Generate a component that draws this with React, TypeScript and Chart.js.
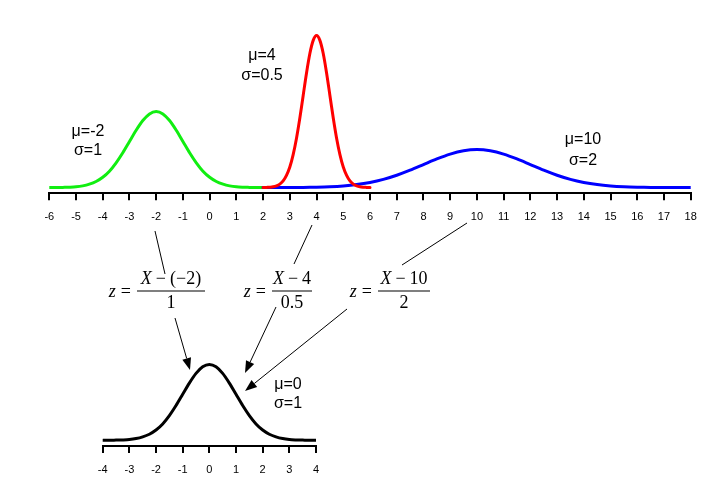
import React, { useEffect, useRef } from "react";
import { Chart, registerables } from "chart.js";

Chart.register(...registerables);

// ---------- data ----------
const topTicks = [-6, -5, -4, -3, -2, -1, 0, 1, 2, 3, 4, 5, 6, 7, 8, 9, 10, 11, 12, 13, 14, 15, 16, 17, 18];
const bottomTicks = [-4, -3, -2, -1, 0, 1, 2, 3, 4];

// mu=-2, sigma=1 (green)
const greenX = [-6, -5.75, -5.5, -5.25, -5, -4.75, -4.5, -4.25, -4, -3.75, -3.5, -3.25, -3, -2.75, -2.5, -2.25, -2,
  -1.75, -1.5, -1.25, -1, -0.75, -0.5, -0.25, 0, 0.25, 0.5, 0.75, 1, 1.25, 1.5, 1.75, 2];
const greenY = [0, 0, 0.001, 0.002, 0.004, 0.009, 0.018, 0.032, 0.054, 0.086, 0.13, 0.183, 0.242, 0.301, 0.352, 0.387, 0.399,
  0.387, 0.352, 0.301, 0.242, 0.183, 0.13, 0.086, 0.054, 0.032, 0.018, 0.009, 0.004, 0.002, 0.001, 0, 0];

// mu=4, sigma=0.5 (red)
const redX = [2, 2.125, 2.25, 2.375, 2.5, 2.625, 2.75, 2.875, 3, 3.125, 3.25, 3.375, 3.5, 3.625, 3.75, 3.875, 4,
  4.125, 4.25, 4.375, 4.5, 4.625, 4.75, 4.875, 5, 5.125, 5.25, 5.375, 5.5, 5.625, 5.75, 5.875, 6];
const redY = [0, 0.001, 0.002, 0.004, 0.009, 0.018, 0.035, 0.064, 0.108, 0.173, 0.259, 0.365, 0.484, 0.602, 0.704, 0.773, 0.798,
  0.773, 0.704, 0.602, 0.484, 0.365, 0.259, 0.173, 0.108, 0.064, 0.035, 0.018, 0.009, 0.004, 0.002, 0.001, 0];

// mu=10, sigma=2 (blue)
const blueX = [2, 2.5, 3, 3.5, 4, 4.5, 5, 5.5, 6, 6.5, 7, 7.5, 8, 8.5, 9, 9.5, 10,
  10.5, 11, 11.5, 12, 12.5, 13, 13.5, 14, 14.5, 15, 15.5, 16, 16.5, 17, 17.5, 18];
const blueY = [0.0001, 0.0002, 0.0004, 0.001, 0.0022, 0.0045, 0.0088, 0.0159, 0.027, 0.0431, 0.0648, 0.0913, 0.121, 0.1506, 0.176, 0.1933, 0.1995,
  0.1933, 0.176, 0.1506, 0.121, 0.0913, 0.0648, 0.0431, 0.027, 0.0159, 0.0088, 0.0045, 0.0022, 0.001, 0.0004, 0.0002, 0.0001];

// mu=0, sigma=1 (black, standard)
const blackX = [-4, -3.75, -3.5, -3.25, -3, -2.75, -2.5, -2.25, -2, -1.75, -1.5, -1.25, -1, -0.75, -0.5, -0.25, 0,
  0.25, 0.5, 0.75, 1, 1.25, 1.5, 1.75, 2, 2.25, 2.5, 2.75, 3, 3.25, 3.5, 3.75, 4];
const blackY = [0, 0, 0.001, 0.002, 0.004, 0.009, 0.018, 0.032, 0.054, 0.086, 0.13, 0.183, 0.242, 0.301, 0.352, 0.387, 0.399,
  0.387, 0.352, 0.301, 0.242, 0.183, 0.13, 0.086, 0.054, 0.032, 0.018, 0.009, 0.004, 0.002, 0.001, 0, 0];

const paramLabels = [
  { lines: ["μ=-2", "σ=1"], x: 88, y: [132, 151] },
  { lines: ["μ=4", "σ=0.5"], x: 262, y: [56, 76] },
  { lines: ["μ=10", "σ=2"], x: 583, y: [140, 161] },
  { lines: ["μ=0", "σ=1"], x: 288, y: [385, 404] },
];

// ---------- drawing helpers ----------
type Run = { t?: string; it?: boolean; gap?: number };
const MATH_SIZE = 18;
const mathFont = (it?: boolean) => `${it ? "italic " : ""}${MATH_SIZE}px 'Liberation Serif'`;

function runsWidth(ctx: CanvasRenderingContext2D, runs: Run[]) {
  let w = 0;
  for (const r of runs) {
    if (r.gap) w += r.gap;
    if (r.t) {
      ctx.font = mathFont(r.it);
      w += ctx.measureText(r.t).width;
    }
  }
  return w;
}

function drawRuns(ctx: CanvasRenderingContext2D, runs: Run[], x: number, y: number, align: "center" | "right") {
  const w = runsWidth(ctx, runs);
  let cx = align === "center" ? x - w / 2 : x - w;
  ctx.textAlign = "left";
  ctx.textBaseline = "alphabetic";
  for (const r of runs) {
    if (r.gap) cx += r.gap;
    if (r.t) {
      ctx.font = mathFont(r.it);
      ctx.fillText(r.t, cx, y);
      cx += ctx.measureText(r.t).width;
    }
  }
}

function drawFormula(ctx: CanvasRenderingContext2D, barL: number, barR: number, barY: number, num: Run[], den: Run[]) {
  ctx.fillStyle = "#000";
  drawRuns(ctx, [{ t: "z", it: true }, { gap: 5 }, { t: "=" }], barL - 6, barY + 5.5, "right");
  const c = (barL + barR) / 2;
  drawRuns(ctx, num, c, barY - 7, "center");
  drawRuns(ctx, den, c, barY + 16.5, "center");
  ctx.fillRect(barL, barY - 0.5, barR - barL, 1);
}

function line(ctx: CanvasRenderingContext2D, x1: number, y1: number, x2: number, y2: number) {
  ctx.beginPath();
  ctx.moveTo(x1, y1);
  ctx.lineTo(x2, y2);
  ctx.stroke();
}

function arrow(ctx: CanvasRenderingContext2D, x1: number, y1: number, x2: number, y2: number) {
  const ang = Math.atan2(y2 - y1, x2 - x1);
  const L = 12, W = 4.5;
  const bx = x2 - L * Math.cos(ang), by = y2 - L * Math.sin(ang);
  line(ctx, x1, y1, bx, by);
  ctx.beginPath();
  ctx.moveTo(x2, y2);
  ctx.lineTo(bx + W * Math.sin(ang), by - W * Math.cos(ang));
  ctx.lineTo(bx - W * Math.sin(ang), by + W * Math.cos(ang));
  ctx.closePath();
  ctx.fill();
}

const annotationPlugin = {
  id: "zAnnotations",
  afterDraw(chart: any) {
    const ctx: CanvasRenderingContext2D = chart.ctx;
    ctx.save();
    ctx.fillStyle = "#000";
    ctx.strokeStyle = "#000";
    ctx.lineWidth = 1;
    // parameter labels
    ctx.font = "16px 'Liberation Sans'";
    ctx.textAlign = "center";
    ctx.textBaseline = "middle";
    for (const p of paramLabels) {
      p.lines.forEach((s, i) => ctx.fillText(s, p.x, p.y[i]));
    }
    // connector lines from top axis to formulas
    line(ctx, 155, 231, 165, 274);
    line(ctx, 312, 225, 294, 264);
    line(ctx, 467, 223, 402, 265);
    // formulas
    drawFormula(ctx, 137, 205, 291,
      [{ t: "X", it: true }, { gap: 4 }, { t: "−" }, { gap: 4 }, { t: "(" }, { t: "−" }, { t: "2" }, { t: ")" }],
      [{ t: "1" }]);
    drawFormula(ctx, 272, 312, 291,
      [{ t: "X", it: true }, { gap: 4 }, { t: "−" }, { gap: 4 }, { t: "4" }],
      [{ t: "0.5" }]);
    drawFormula(ctx, 378, 430, 291,
      [{ t: "X", it: true }, { gap: 4 }, { t: "−" }, { gap: 4 }, { t: "10" }],
      [{ t: "2" }]);
    // arrows to standard normal
    arrow(ctx, 175, 318, 190, 370);
    arrow(ctx, 276, 307, 245, 373);
    arrow(ctx, 347, 309, 245, 391);
    ctx.restore();
  },
};

const tickFont = { family: "'Liberation Sans'", size: 11 };

function axisX(min: number, max: number, ticks: number[]) {
  return {
    type: "linear" as const,
    min,
    max,
    afterBuildTicks: (s: any) => {
      s.ticks = ticks.map((v) => ({ value: v }));
    },
    afterFit: (s: any) => {
      s.height = 30;
    },
    ticks: {
      font: tickFont,
      color: "#000",
      padding: 10,
      autoSkip: false,
      maxRotation: 0,
      callback: (v: any) => String(v),
    },
    grid: { drawOnChartArea: false, color: "#000", lineWidth: 2, tickLength: 7 },
    border: { display: true, color: "#000", width: 2 },
  };
}

const pts = (xs: number[], ys: number[]) => xs.map((x, i) => ({ x, y: ys[i] }));

export default function App() {
  const topRef = useRef<HTMLCanvasElement>(null);
  const botRef = useRef<HTMLCanvasElement>(null);

  useEffect(() => {
    const common = {
      responsive: false,
      animation: false as const,
      events: [] as any[],
      plugins: { legend: { display: false }, tooltip: { enabled: false } },
      elements: { point: { radius: 0 }, line: { tension: 0.3, borderCapStyle: "round" as const } },
    };
    const top = new Chart(topRef.current!, {
      type: "line",
      data: {
        datasets: [
          { data: pts(redX, redY), borderColor: "#ff0000", borderWidth: 3, order: 1 },
          { data: pts(blueX, blueY), borderColor: "#0000ff", borderWidth: 3, order: 2 },
          { data: pts(greenX, greenY), borderColor: "#11ee11", borderWidth: 3, order: 3 },
        ],
      },
      options: {
        ...common,
        layout: { padding: { left: 49.3, right: 29.3, top: 20, bottom: 277.7 } },
        scales: {
          x: axisX(-6, 18, topTicks) as any,
          y: { display: false, min: -0.03, max: 0.88 },
        },
      },
      plugins: [annotationPlugin],
    });
    const bot = new Chart(botRef.current!, {
      type: "line",
      data: {
        datasets: [{ data: pts(blackX, blackY), borderColor: "#000000", borderWidth: 3 }],
      },
      options: {
        ...common,
        layout: { padding: { left: 102.7, right: 44, top: 24.8, bottom: 25 } },
        scales: {
          x: axisX(-4, 4, bottomTicks) as any,
          y: { display: false, min: -0.03, max: 0.45 },
        },
      },
    });
    return () => {
      top.destroy();
      bot.destroy();
    };
  }, []);

  return (
    <div style={{ position: "fixed", left: 0, top: 0, width: 720, height: 501, background: "#fff" }}>
      <canvas
        ref={botRef}
        width={360}
        height={171}
        style={{ position: "absolute", left: 0, top: 330, width: 360, height: 171 }}
      />
      <canvas
        ref={topRef}
        width={720}
        height={501}
        style={{ position: "absolute", left: 0, top: 0, width: 720, height: 501, zIndex: 2 }}
      />
    </div>
  );
}
